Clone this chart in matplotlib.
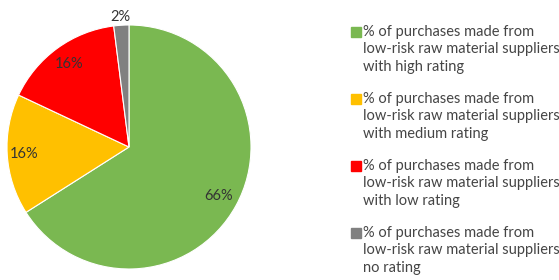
import numpy as np
import matplotlib.pyplot as plt
from matplotlib.patches import Rectangle

plt.rcParams['font.family'] = ['Lato', 'DejaVu Sans']

shares = [66, 16, 16, 2]
pct_labels = ['66%', '16%', '16%', '2%']
colors = ['#7AB851', '#FFC000', '#FF0000', '#808080']
legend_labels = [
    '% of purchases made from\nlow-risk raw material suppliers\nwith high rating',
    '% of purchases made from\nlow-risk raw material suppliers\nwith medium rating',
    '% of purchases made from\nlow-risk raw material suppliers\nwith low rating',
    '% of purchases made from\nlow-risk raw material suppliers\nno rating',
]
label_r = [0.84, 0.86, 0.84, 1.07]

W, H = 559, 280
fig = plt.figure(figsize=(W / 100, H / 100), dpi=100)

cx, cy, r = 129, 147, 122
ax = fig.add_axes([(cx - r) / W, (H - cy - r) / H, 2 * r / W, 2 * r / H])
wedges, _ = ax.pie(shares, colors=colors, startangle=90, counterclock=False,
                   wedgeprops=dict(edgecolor='white', linewidth=0.8))
ax.set_xlim(-1, 1)
ax.set_ylim(-1, 1)
ax.set_aspect('equal')
ax.axis('off')

for w, lab, d in zip(wedges, pct_labels, label_r):
    t = np.deg2rad((w.theta1 + w.theta2) / 2)
    ax.text(d * np.cos(t), d * np.sin(t), lab, ha='center', va='center',
            fontsize=10.5, color='#333333')

# legend drawn by hand so the square sits on the first line
y0 = 32
for i, (lab, c) in enumerate(zip(legend_labels, colors)):
    y = y0 + i * 67
    fig.patches.append(Rectangle((351 / W, (H - y - 5) / H), 10 / W, 10 / H,
                                 transform=fig.transFigure, color=c))
    fig.text(363 / W, (H - y + 7) / H, lab, ha='left', va='top',
             fontsize=10.5, color='#454545', linespacing=1.3)

fig.savefig('out.png', dpi=100)
